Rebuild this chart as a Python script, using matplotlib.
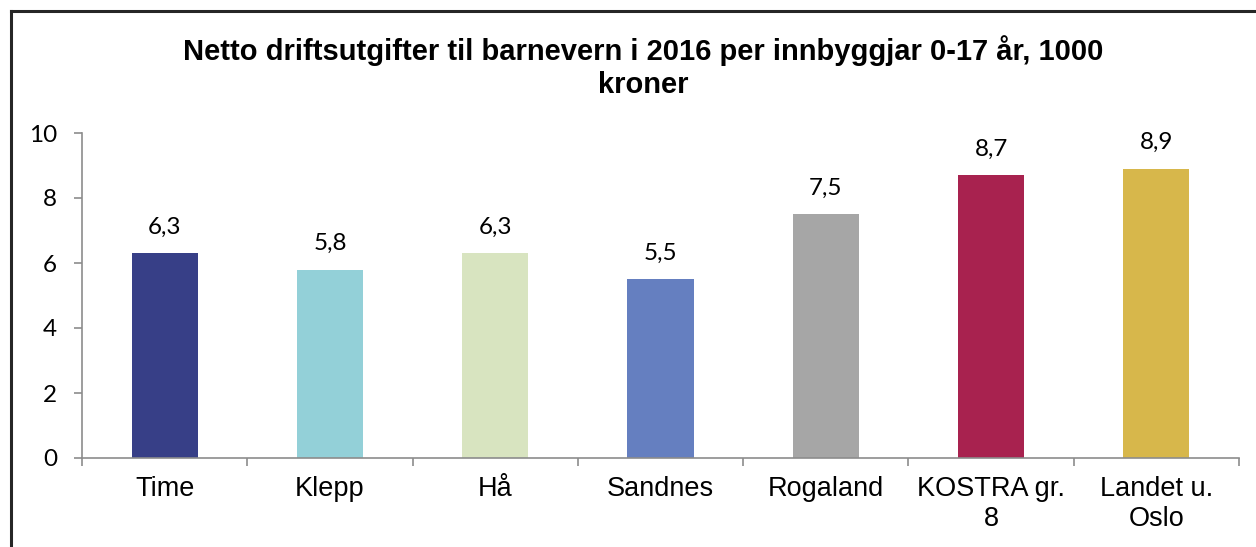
import numpy as np
import matplotlib.pyplot as plt
from matplotlib.lines import Line2D

# %%
# Data
categories = ["Time", "Klepp", "Hå", "Sandnes", "Rogaland", "KOSTRA gr.\n8", "Landet u.\nOslo"]
values = [6.3, 5.8, 6.3, 5.5, 7.5, 8.7, 8.9]
colors = ["#373F87", "#93D0D8", "#D8E4C0", "#657FC0", "#A6A6A6", "#A8224F", "#D7B74B"]
yticks = [0, 2, 4, 6, 8, 10]
title = "Netto driftsutgifter til barnevern i 2016 per innbyggjar 0-17 år, 1000\nkroner"

# %%
fig = plt.figure(figsize=(12.56, 5.47), dpi=100)
ax = fig.add_axes([82 / 1256, 1 - 458 / 547, (1239 - 82) / 1256, (458 - 133) / 547])

x = np.arange(len(categories))
ax.bar(x, values, width=0.4, color=colors)

# value labels
for xi, v in zip(x, values):
    ax.annotate(
        f"{v:.1f}".replace(".", ","),
        xy=(xi, v),
        xytext=(0, 19),
        textcoords="offset points",
        ha="center",
        va="center",
        fontsize=17.5,
        family="Lato",
    )

ax.set_xlim(-0.5, len(categories) - 0.5)
ax.set_ylim(0, 10)
ax.set_yticks(yticks)
ax.set_yticklabels([str(t) for t in yticks], family="Lato", fontsize=17.5)

# category labels at centres, tick marks at boundaries
ax.set_xticks(x)
ax.set_xticklabels(categories, family="Liberation Sans", fontsize=19.5, linespacing=1.2)
ax.set_xticks(np.arange(-0.5, len(categories)), minor=True)
ax.tick_params(axis="x", which="major", length=0, pad=13)
ax.tick_params(axis="x", which="minor", length=6, width=1.2, color="#8C8C8C", direction="out")
ax.tick_params(axis="y", length=6, width=1.2, color="#8C8C8C", pad=12)

for s in ["top", "right"]:
    ax.spines[s].set_visible(False)
for s in ["left", "bottom"]:
    ax.spines[s].set_color("#8C8C8C")
    ax.spines[s].set_linewidth(1.2)

fig.text(643 / 1256, 1 - 67 / 547, title, ha="center", va="center",
         fontsize=21, fontweight="bold", family="Liberation Sans", linespacing=1.25)

# frame around the chart (only top and left visible)
fig.add_artist(Line2D([11 / 1256, 1], [1 - 11 / 547] * 2, transform=fig.transFigure,
                      color="#262626", lw=2.2))
fig.add_artist(Line2D([11 / 1256] * 2, [0, 1 - 11 / 547], transform=fig.transFigure,
                      color="#262626", lw=2.2))

fig.savefig("out.png", dpi=100)
